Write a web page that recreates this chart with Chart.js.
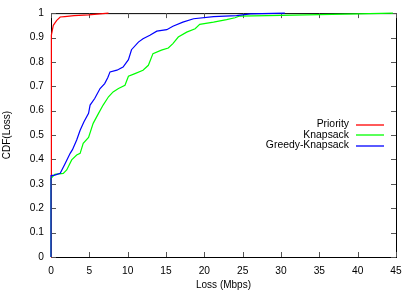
<!DOCTYPE html>
<html>
<head>
<meta charset="utf-8">
<script src="https://cdn.jsdelivr.net/npm/chart.js@4/dist/chart.umd.min.js"></script>
<style>
  html, body { margin: 0; padding: 0; background: #fff; }
  #wrap { width: 415px; height: 291px; }
</style>
</head>
<body>
<div id="wrap"><canvas id="cdfChart" width="415" height="291"></canvas></div>
<script>
// CDF of loss per scheduler
const xTicks = [0, 5, 10, 15, 20, 25, 30, 35, 40, 45];
const yTicks = [0, 0.1, 0.2, 0.3, 0.4, 0.5, 0.6, 0.7, 0.8, 0.9, 1];
const seriesNames = ['Priority', 'Knapsack', 'Greedy-Knapsack'];
const seriesColors = ['#ff0000', '#00ff00', '#0000ff'];

const priorityX = [0, 0, 0.1, 0.3, 0.75, 1.2, 1.8, 3, 4.9, 7.5];
const priorityY = [0, 0.88, 0.91, 0.95, 0.97, 0.984, 0.986, 0.99, 0.993, 1.0];

const knapsackX = [0, 0, 0.5, 1.6, 2.05, 2.7, 3.35, 3.8, 4.2, 4.9, 5.5, 6.2, 6.8, 7.5, 8.1, 8.8, 9.65,
  10.1, 10.95, 12.0, 12.7, 13.3, 14.4, 15.3, 15.9, 16.6, 17.7, 18.8, 19.4, 21.2, 22.9, 24.0, 24.6,
  30, 35, 40, 44.6];
const knapsackY = [0, 0.323, 0.339, 0.343, 0.357, 0.398, 0.418, 0.425, 0.466, 0.49, 0.548, 0.589, 0.623,
  0.657, 0.677, 0.691, 0.704, 0.741, 0.752, 0.766, 0.786, 0.834, 0.848, 0.857, 0.875, 0.902, 0.922,
  0.936, 0.954, 0.963, 0.973, 0.981, 0.988, 0.991, 0.994, 0.997, 1.0];

const greedyX = [0, 0, 0.5, 1.2, 1.8, 2.5, 2.8, 3.35, 3.8, 4.3, 4.9, 5.1, 5.7, 6.4, 7.0, 7.4, 7.7, 8.6,
  9.4, 10.1, 10.5, 11.4, 12.0, 12.9, 13.8, 15.1, 15.9, 17.2, 18.6, 21.2, 24.2, 26, 30.5];
const greedyY = [0, 0.334, 0.336, 0.343, 0.38, 0.425, 0.44, 0.48, 0.52, 0.555, 0.589, 0.623, 0.65,
  0.691, 0.711, 0.735, 0.759, 0.766, 0.779, 0.809, 0.85, 0.881, 0.895, 0.909, 0.926, 0.932, 0.946,
  0.963, 0.977, 0.986, 0.99, 0.997, 1.0];

const FONT = '"Liberation Sans", Arial, sans-serif';

function toPoints(xs, ys) {
  return xs.map((x, i) => ({ x: x, y: ys[i] }));
}

// gnuplot style frame with inward tick marks on all four sides
const framePlugin = {
  id: 'frame',
  beforeDatasetsDraw(chart) {
    const { ctx, chartArea: a, scales } = chart;
    ctx.save();
    ctx.strokeStyle = '#000';
    ctx.lineWidth = 1;
    ctx.strokeRect(a.left + 0.5, a.top + 0.5, a.right - a.left, a.bottom - a.top);
    ctx.strokeStyle = '#555';
    ctx.beginPath();
    const len = 5;
    xTicks.forEach((v) => {
      const px = Math.round(scales.x.getPixelForValue(v)) + 0.5;
      ctx.moveTo(px, a.bottom); ctx.lineTo(px, a.bottom - len);
      ctx.moveTo(px, a.top); ctx.lineTo(px, a.top + len);
    });
    yTicks.forEach((v) => {
      const py = Math.round(scales.y.getPixelForValue(v)) + 0.5;
      ctx.moveTo(a.left, py); ctx.lineTo(a.left + len, py);
      ctx.moveTo(a.right, py); ctx.lineTo(a.right - len, py);
    });
    ctx.stroke();
    ctx.restore();
  },
  afterDraw(chart) {
    // key in the right half, text right aligned before the line samples
    const { ctx } = chart;
    const textRight = 349;
    const lineStart = 356;
    const lineEnd = 384;
    const rows = [124.5, 135, 145.5];
    ctx.save();
    ctx.font = '10.4px ' + FONT;
    ctx.textAlign = 'right';
    ctx.textBaseline = 'middle';
    seriesNames.forEach((name, i) => {
      ctx.fillStyle = '#000';
      ctx.fillText(name, textRight, rows[i]);
      ctx.strokeStyle = seriesColors[i];
      ctx.lineWidth = 1.3;
      ctx.beginPath();
      ctx.moveTo(lineStart, Math.round(rows[i]));
      ctx.lineTo(lineEnd, Math.round(rows[i]));
      ctx.stroke();
    });
    ctx.restore();
  },
};

function makeDataset(i, xs, ys, order) {
  return {
    label: seriesNames[i],
    data: toPoints(xs, ys),
    borderColor: seriesColors[i],
    borderWidth: 1.2,
    pointRadius: 0,
    tension: 0,
    fill: false,
    clip: 3,
    order: order,
  };
}

function initChart() {
  const ctx = document.getElementById('cdfChart').getContext('2d');
  new Chart(ctx, {
    type: 'line',
    data: {
      datasets: [
        makeDataset(0, priorityX, priorityY, 2),
        makeDataset(1, knapsackX, knapsackY, 1),
        makeDataset(2, greedyX, greedyY, 0),
      ],
    },
    options: {
      responsive: false,
      animation: false,
      layout: { padding: { left: 0, top: 13, right: 19, bottom: 0 } },
      plugins: {
        legend: { display: false },
        tooltip: { enabled: false },
      },
      scales: {
        x: {
          type: 'linear',
          min: 0,
          max: 45,
          afterBuildTicks: (scale) => { scale.ticks = xTicks.map((v) => ({ value: v })); },
          afterFit: (scale) => { scale.height = 34; },
          grid: { display: false, drawTicks: false },
          border: { display: false },
          ticks: {
            color: '#000',
            padding: 8,
            maxRotation: 0,
            font: { family: FONT, size: 10.2 },
          },
          title: {
            display: true,
            text: 'Loss (Mbps)',
            color: '#000',
            padding: 0,
            font: { family: FONT, size: 10 },
          },
        },
        y: {
          type: 'linear',
          min: 0,
          max: 1,
          afterBuildTicks: (scale) => { scale.ticks = yTicks.map((v) => ({ value: v })); },
          afterFit: (scale) => { scale.width = 51; },
          grid: { display: false, drawTicks: false },
          border: { display: false },
          ticks: {
            color: '#000',
            padding: 7,
            font: { family: FONT, size: 10.2 },
            callback: (v) => String(Math.round(v * 10) / 10),
          },
          title: {
            display: true,
            text: 'CDF(Loss)',
            color: '#000',
            padding: { top: 1, bottom: 0 },
            font: { family: FONT, size: 10 },
          },
        },
      },
    },
    plugins: [framePlugin],
  });
}

document.addEventListener('DOMContentLoaded', initChart);
</script>
</body>
</html>
